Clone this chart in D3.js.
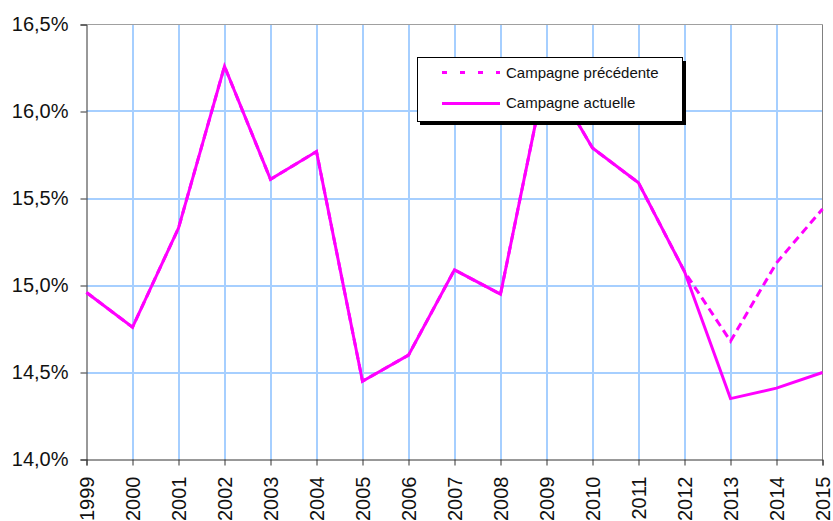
<!DOCTYPE html>
<html>
<head>
<meta charset="utf-8">
<script src="https://cdn.jsdelivr.net/npm/d3@7"></script>
<style>
  html, body { margin: 0; padding: 0; background: #fff; }
  svg { display: block; font-family: "Liberation Sans", Arial, sans-serif; }
</style>
</head>
<body>
<svg id="chart" width="833" height="521"></svg>
<script>
const years = [1999, 2000, 2001, 2002, 2003, 2004, 2005, 2006, 2007, 2008, 2009, 2010, 2011, 2012, 2013, 2014, 2015];
const actuelle = [14.96, 14.76, 15.33, 16.26, 15.61, 15.77, 14.45, 14.60, 15.09, 14.95, 16.24, 15.79, 15.59, 15.08, 14.35, 14.41, 14.50];
const precedente = [14.96, 14.76, 15.33, 16.26, 15.61, 15.77, 14.45, 14.60, 15.09, 14.95, 16.24, 15.79, 15.59, 15.08, 14.68, 15.13, 15.44];
const yTicks = [14.0, 14.5, 15.0, 15.5, 16.0, 16.5];
const seriesNames = ["Campagne précédente", "Campagne actuelle"];

(function () {
const svg = d3.select("#chart");
const pL = 86.5, pR = 822.5, pT = 24.5, pB = 459.5;

const x = d3.scaleLinear().domain([1999, 2015]).range([pL, pR]);
const y = d3.scaleLinear().domain([14, 16.5]).range([pB, pT]);
const fmt = v => v.toFixed(1).replace(".", ",") + "%";

// gridlines
const gridColor = "#A6CFFF";
const grid = svg.append("g");
grid.selectAll("line.v").data(years.slice(1, -1)).join("line").attr("class", "v")
  .attr("x1", d => Math.round(x(d))).attr("x2", d => Math.round(x(d)))
  .attr("y1", pT).attr("y2", pB)
  .attr("stroke", gridColor).attr("stroke-width", 2);
grid.selectAll("line.h").data(yTicks.slice(1, -1)).join("line").attr("class", "h")
  .attr("x1", pL).attr("x2", pR)
  .attr("y1", d => Math.round(y(d))).attr("y2", d => Math.round(y(d)))
  .attr("stroke", gridColor).attr("stroke-width", 2);

// plot border (top & right)
svg.append("line").attr("x1", pL).attr("x2", pR).attr("y1", pT).attr("y2", pT).attr("stroke", "#a0a0a0");
svg.append("line").attr("x1", pR).attr("x2", pR).attr("y1", pT).attr("y2", pB).attr("stroke", "#808080");

// axes
const yAxis = d3.axisLeft(y).tickValues(yTicks).tickFormat(fmt).tickSize(6).tickPadding(12);
const gy = svg.append("g").attr("transform", `translate(${pL},0)`).call(yAxis);
gy.select(".domain").attr("stroke", "#333");
gy.selectAll(".tick line").attr("stroke", "#333");
gy.selectAll(".tick text").attr("font-size", 20).attr("fill", "#111")
  .attr("font-family", "Liberation Sans, Arial, sans-serif");

const xAxis = d3.axisBottom(x).tickValues(years).tickFormat(d3.format("d")).tickSize(6);
const gx = svg.append("g").attr("transform", `translate(0,${pB})`).call(xAxis);
gx.select(".domain").attr("stroke", "#333");
gx.selectAll(".tick line").attr("stroke", "#333");
gx.selectAll(".tick text")
  .attr("font-size", 20).attr("fill", "#111")
  .attr("font-family", "Liberation Sans, Arial, sans-serif")
  .attr("text-anchor", "end")
  .attr("transform", "rotate(-90)")
  .attr("x", -17).attr("y", 0).attr("dy", "0.36em");

// lines
const lineGen = d3.line().x((d, i) => x(years[i])).y(d => y(d));
svg.append("path").datum(precedente)
  .attr("d", lineGen).attr("fill", "none")
  .attr("stroke", "#FF00FF").attr("stroke-width", 3)
  .attr("stroke-dasharray", "8,5");
svg.append("path").datum(actuelle)
  .attr("d", lineGen).attr("fill", "none")
  .attr("stroke", "#FF00FF").attr("stroke-width", 3)
  .attr("stroke-linejoin", "miter");

// legend
const lg = svg.append("g");
lg.append("rect").attr("x", 420).attr("y", 61).attr("width", 266).attr("height", 64).attr("fill", "#000");
lg.append("rect").attr("x", 417.5).attr("y", 57.5).attr("width", 265).attr("height", 64)
  .attr("fill", "#fff").attr("stroke", "#000").attr("stroke-width", 1);
lg.append("line").attr("x1", 442).attr("x2", 500).attr("y1", 72.5).attr("y2", 72.5)
  .attr("stroke", "#FF00FF").attr("stroke-width", 3).attr("stroke-dasharray", "5,13");
lg.append("line").attr("x1", 442).attr("x2", 500).attr("y1", 103.5).attr("y2", 103.5)
  .attr("stroke", "#FF00FF").attr("stroke-width", 3);
lg.selectAll("text").data(seriesNames).join("text")
  .attr("x", 506).attr("y", (d, i) => 77.5 + i * 30)
  .attr("font-size", 15).attr("fill", "#111").text(d => d);
})();
</script>
</body>
</html>
